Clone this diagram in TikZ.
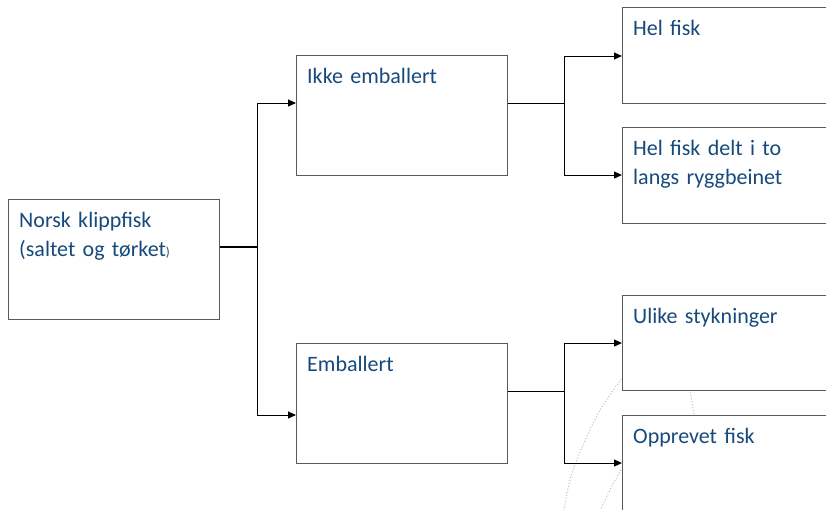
\documentclass[tikz,border=0pt]{standalone}
\usepackage{fontspec}
\setmainfont{Carlito}
\usetikzlibrary{arrows.meta}
\definecolor{txtblue}{HTML}{174A7C}
\definecolor{boxgray}{HTML}{5A5A5A}
\definecolor{dotblue}{HTML}{A8C2D4}
\begin{document}
\begin{tikzpicture}[x=1pt,y=-1pt,
  box/.style={draw=boxgray,fill=white,line width=1pt,anchor=north west,inner sep=0pt,minimum width=#1},
  box/.default=211pt,
  lbl/.style={anchor=base west,inner sep=0pt,text width=200pt,align=left,text=txtblue,
    font=\fontsize{22}{29.5}\selectfont},
  conn/.style={draw=black,line width=1pt},
  arr/.style={conn,-{Triangle[length=8pt,width=7pt]}},
  deco/.style={draw=dotblue,line width=1pt,dotted}]
\useasboundingbox (0,0) rectangle (826,509);
\fill[white] (0,0) rectangle (826,509);
% background dotted arcs
\draw[deco] plot[smooth] coordinates {(636,360) (600,410) (573,470) (563,515)};
\draw[deco] plot[smooth] coordinates {(632,452) (614,482) (598,515)};
\draw[deco] plot[smooth] coordinates {(686,378) (690,391) (694,414) (697,428)};
% boxes
\node[box,minimum height=120pt] (root) at (8,199) {};
\node[box,minimum height=120pt] (ikke) at (296,55) {};
\node[box,minimum height=120pt] (emb) at (296,343) {};
\node[box=230pt,minimum height=96pt] (hel) at (622,7) {};
\node[box=230pt,minimum height=96pt] (delt) at (622,127) {};
\node[box=230pt,minimum height=95pt] (ulike) at (622,295) {};
\node[box=230pt,minimum height=120pt] (opp) at (622,415) {};
% labels
\node[lbl] (troot) at ([shift={(11,28)}]root.north west) {Norsk klippfisk\\(saltet og tørket{\fontsize{13}{15}\selectfont)}};
\node[lbl] (tikke) at ([shift={(11,28)}]ikke.north west) {Ikke emballert};
\node[lbl] (temb) at ([shift={(11,28)}]emb.north west) {Emballert};
\node[lbl] (thel) at ([shift={(11,28)}]hel.north west) {Hel fisk};
\node[lbl] (tdelt) at ([shift={(11,28)}]delt.north west) {Hel fisk delt i to\\langs ryggbeinet};
\node[lbl] (tulike) at ([shift={(11,28)}]ulike.north west) {Ulike stykninger};
\node[lbl] (topp) at ([shift={(11,28)}]opp.north west) {Opprevet fisk};
% connectors
\coordinate (j1) at (257,247);
\coordinate (j2) at (564,103);
\coordinate (j3) at (564,391);
\draw[conn,line width=2pt] (root.east |- j1) -- (j1);
\draw[arr] (j1) |- (ikke.west |- 0,103);
\draw[arr] (j1) |- (emb.west |- 0,415);
\draw[conn] (ikke.east |- j2) -- (j2);
\draw[arr] (j2) |- (hel.west |- 0,56);
\draw[arr] (j2) |- (delt.west |- 0,175);
\draw[conn] (emb.east |- j3) -- (j3);
\draw[arr] (j3) |- (ulike.west |- 0,343);
\draw[arr] (j3) |- (opp.west |- 0,463);
\end{tikzpicture}
\end{document}
